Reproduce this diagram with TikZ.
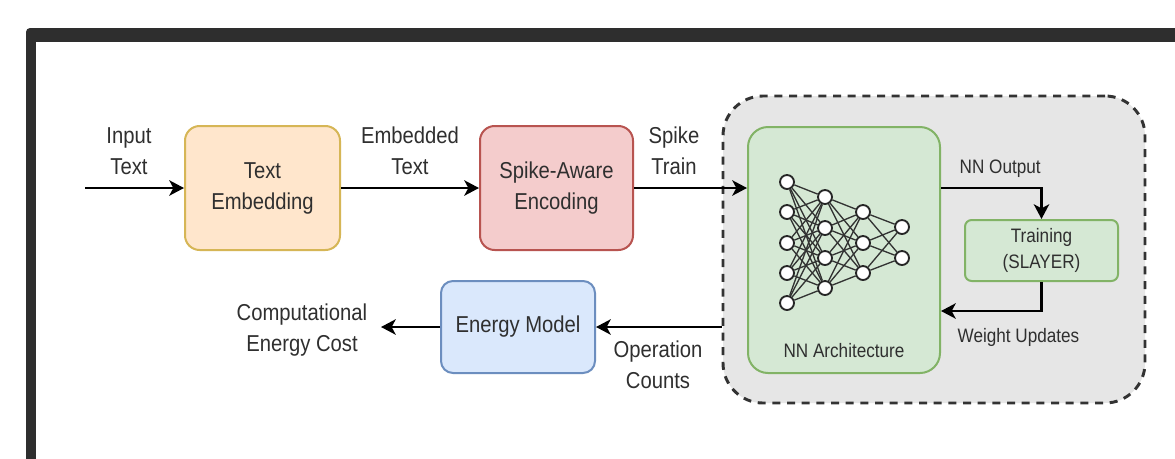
\documentclass[tikz,border=0pt]{standalone}
\usepackage{fontspec}
\setmainfont{Liberation Sans}[FakeStretch=0.88]
\usetikzlibrary{arrows.meta,calc}
\definecolor{framec}{HTML}{2E2E2E}
\definecolor{txt}{HTML}{2F2F2F}
\definecolor{teF}{HTML}{FFE6CC}\definecolor{teD}{HTML}{D6B656}
\definecolor{saF}{HTML}{F4CCCC}\definecolor{saD}{HTML}{B85450}
\definecolor{gnF}{HTML}{D5E8D4}\definecolor{gnD}{HTML}{82B366}
\definecolor{emF}{HTML}{DAE8FC}\definecolor{emD}{HTML}{6C8EBF}
\definecolor{grpF}{HTML}{E6E6E6}\definecolor{grpD}{HTML}{333333}
\tikzset{
  big/.style={font=\fontsize{17.25}{23.25}\selectfont, text=txt, align=center},
  small/.style={font=\fontsize{14.6}{19.5}\selectfont, text=txt, align=center},
  box/.style={draw, line width=1.5pt, rectangle, inner sep=0pt},
  arr/.style={line width=2pt, draw=black, -{Stealth[length=11pt,width=11.5pt,inset=3pt]}},
  neuron/.style={circle, draw=black!85, fill=white, line width=1.4pt, minimum size=10.5pt, inner sep=0pt},
  syn/.style={line width=1pt, draw=black!80},
}
\begin{document}
\begin{tikzpicture}[x=0.75pt,y=-0.75pt]
\useasboundingbox (0,0) rectangle (1175,458);
\clip (0,0) rectangle (1175,458);
\fill[white] (0,0) rectangle (1175,458);
% outer frame
\fill[framec, rounded corners=3pt] (26,28) rectangle (1195,480);
\fill[white] (36,42) rectangle (1195,480);

% group region
\node[box, draw=grpD, fill=grpF, line width=2.2pt, dash pattern=on 6pt off 5pt, rounded corners=30pt,
      minimum width=316.5pt, minimum height=230.25pt] (grp) at (934,249.5) {};

% boxes
\node[box, draw=teD, fill=teF, rounded corners=11pt, minimum width=116.25pt, minimum height=93pt, big] (te) at (262.5,188) {Text\\Embedding};
\node[box, draw=saD, fill=saF, rounded corners=11pt, minimum width=114.75pt, minimum height=93pt, big] (sa) at (556.5,188) {Spike-Aware\\Encoding};
\node[box, draw=gnD, fill=gnF, rounded corners=15pt, minimum width=144pt, minimum height=184.5pt] (nn) at (844,250) {};
\node[box, draw=gnD, fill=gnF, rounded corners=5pt, minimum width=114.75pt, minimum height=45.75pt, small] (tr) at (1041.5,250.5) {Training\\(SLAYER)};
\node[box, draw=emD, fill=emF, rounded corners=9pt, minimum width=115.5pt, minimum height=69pt, big] (em) at (518,327) {Energy Model};

% network
\foreach \y [count=\i] in {182,212,243,273,303} \node[neuron] (a\i) at (787,\y) {};
\foreach \y [count=\i] in {197,228,258,288} \node[neuron] (b\i) at (825,\y) {};
\foreach \y [count=\i] in {212,243,273} \node[neuron] (c\i) at (863,\y) {};
\foreach \y [count=\i] in {227,258} \node[neuron] (d\i) at (902,\y) {};
\foreach \i in {1,...,5} \foreach \j in {1,...,4} \draw[syn] (a\i) -- (b\j);
\foreach \i in {1,...,4} \foreach \j in {1,...,3} \draw[syn] (b\i) -- (c\j);
\foreach \i in {1,...,3} \foreach \j in {1,...,2} \draw[syn] (c\i) -- (d\j);
\node[small, anchor=base] (nnlab) at (844,357) {NN Architecture};

% labels
\node[big] (lin) at (129,151) {Input\\Text};
\node[big] (lemb) at (410,151) {Embedded\\Text};
\node[big] (lspk) at (674,151) {Spike\\Train};
\node[big] (lcost) at (302,330) {Computational\\Energy Cost};
\node[big] (lops) at (658,365) {Operation\\Counts};
\node[small, anchor=base west] (lout) at (955,173) {NN Output};
\node[small, anchor=base west] (lwu) at (953,342) {Weight Updates};

% connectors
\coordinate (inStart) at (85,188);
\coordinate (costEnd) at (381,327);
\draw[arr] (inStart) -- (te.west);
\draw[arr] (te.east) -- (sa.west);
\draw[arr] (sa.east) -- (sa.east -| nn.west);
\draw[arr] (nn.east |- sa.east) -| (tr.north);
\draw[arr] (tr.south) |- ($(nn.east)+(0,61)$);
\draw[arr] (grp.west |- em.east) -- (em.east);
\draw[arr] (em.west) -- (costEnd);
\end{tikzpicture}
\end{document}
